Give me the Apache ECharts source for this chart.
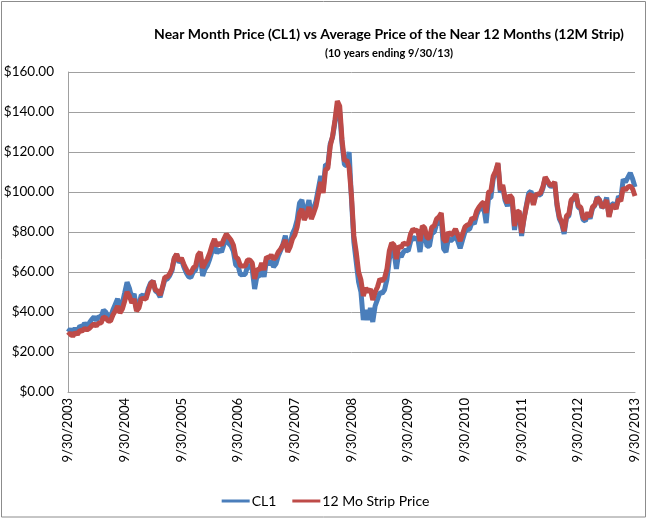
<!DOCTYPE html>
<html>
<head>
<meta charset="utf-8">
<script src="https://cdn.jsdelivr.net/npm/echarts@6/dist/echarts.min.js"></script>
<style>html,body{margin:0;padding:0;background:#fff}#c{width:651px;height:519px}</style>
</head>
<body>
<div id="c"></div>
<script>
// Semi-monthly observations, 9/30/2003 .. 9/30/2013 (index 0 = 9/30/2003, then mid/end of each month)
const yearLabels = ['9/30/2003','9/30/2004','9/30/2005','9/30/2006','9/30/2007','9/30/2008','9/30/2009','9/30/2010','9/30/2011','9/30/2012','9/30/2013'];
const yTicks = [0,20,40,60,80,100,120,140,160];

const cl1 = [30.0,
 31.5,29.5,31.9,30.4,33.0,32.5,34.4,33.1,34.5,36.2,37.5,35.8,37.7,37.4,41.0,39.9,37.6,37.1,41.0,43.8,46.6,42.1,44.4,49.6,
 54.9,51.8,46.9,49.1,41.5,43.5,48.4,48.2,47.4,51.8,54.6,55.4,50.5,49.7,47.5,52.0,56.2,56.5,58.1,60.6,66.9,68.9,64.7,66.2,
 62.6,59.8,57.7,57.3,60.0,61.0,66.3,67.9,58.0,61.4,63.3,66.6,70.5,73.5,69.4,71.3,70.0,73.9,76.5,74.4,73.1,70.3,63.4,62.9,
 58.6,58.7,58.8,62.9,63.4,61.0,51.5,58.1,57.9,61.8,57.6,65.9,63.6,65.7,62.6,64.0,68.0,70.7,74.0,78.2,71.0,74.0,79.1,81.7,
 86.1,94.5,96.0,88.7,91.3,96.0,88.0,91.8,95.5,101.8,108.0,101.6,113.8,113.5,124.1,127.4,134.9,142.0,140.0,124.1,113.8,113.0,120.0,96.0,
 75.0,65.0,55.0,50.0,36.0,41.0,36.0,42.0,35.0,43.0,46.3,49.7,49.4,51.1,56.3,66.3,70.6,69.9,61.5,69.5,67.5,70.0,71.0,70.6,
 75.2,77.5,76.4,77.3,70.0,79.4,78.0,72.9,73.0,79.7,79.8,83.8,84.5,86.2,71.6,70.0,76.9,75.6,76.6,78.9,75.4,71.9,76.0,80.0,
 81.3,81.4,84.9,84.1,88.6,91.4,91.5,92.2,84.5,97.0,97.2,106.7,109.7,113.9,99.7,102.7,95.8,93.0,97.2,95.7,81.0,88.8,89.4,78.0,
 86.8,93.2,99.4,100.4,93.9,98.8,98.7,98.5,101.8,107.1,105.1,103.0,102.8,104.9,93.0,86.5,84.0,79.0,87.1,88.1,95.3,96.5,98.8,92.2,
 91.9,86.2,85.5,88.9,86.7,91.8,93.3,97.5,95.9,92.1,93.5,97.2,88.0,93.5,94.3,92.0,97.9,96.6,106.3,105.0,107.3,109.5,106.5,102.5];

const strip = [28.3,
 29.5,27.8,29.8,28.8,30.8,30.5,31.8,31.0,31.8,33.0,34.0,33.0,34.5,34.5,37.5,37.0,35.5,35.5,38.5,40.5,43.0,39.5,41.5,45.5,
 50.0,48.0,44.5,46.5,40.5,42.0,46.5,46.8,46.5,50.5,54.0,55.5,51.0,50.5,48.5,52.5,57.5,57.5,59.0,61.5,67.0,69.0,65.5,67.0,
 64.0,61.5,59.5,59.5,62.0,63.0,68.5,70.0,62.0,64.5,66.5,69.5,73.5,76.5,73.0,74.5,73.5,76.5,79.0,77.5,76.0,73.5,67.5,66.5,
 63.0,63.0,63.0,66.0,66.0,64.5,56.5,61.5,61.0,64.5,61.0,67.5,67.0,68.5,66.5,67.5,70.0,71.5,73.5,76.0,70.0,72.5,76.5,78.5,
 82.5,89.5,91.5,86.0,88.5,92.5,86.5,89.5,93.0,99.0,105.0,99.5,111.0,112.0,123.0,128.0,136.0,145.5,143.0,126.0,115.5,116.0,112.0,98.0,
 78.0,70.0,60.0,56.0,48.0,52.0,50.0,51.5,46.0,50.0,52.5,56.5,55.5,57.0,61.5,70.5,74.5,73.5,66.5,73.0,72.0,74.5,74.0,74.0,
 79.0,81.5,80.5,81.0,75.5,83.0,82.0,77.0,77.0,82.5,83.0,86.5,87.5,89.5,76.5,75.0,80.0,78.5,79.5,81.5,78.5,75.5,79.0,82.5,
 83.5,84.0,87.0,86.5,90.5,92.5,94.0,95.0,89.5,100.0,100.5,108.0,110.5,114.5,101.0,103.5,97.0,94.5,98.5,97.0,83.0,90.0,90.5,79.5,
 86.5,92.5,98.0,99.0,93.5,98.5,99.0,99.5,102.5,107.5,105.5,103.5,103.5,105.0,94.0,87.5,85.0,80.5,88.0,89.0,96.0,97.0,99.0,93.0,
 92.5,87.5,86.5,89.8,87.5,92.5,93.5,97.0,96.0,92.5,93.0,96.0,87.5,92.5,93.5,91.5,96.5,95.5,102.0,101.0,102.5,103.0,101.5,98.0];

// category labels: one per observation; only yearly anniversaries are shown
const cats = cl1.map((v, i) => (i % 24 === 0 ? yearLabels[i / 24] : 'p' + i));

const FONT = "Lato, 'Noto Sans', sans-serif";
const chart = echarts.init(document.getElementById('c'), null, {renderer: 'canvas'});
chart.setOption({
  animation: false,
  backgroundColor: '#fff',
  title: {
    text: 'Near Month Price (CL1) vs Average Price of the Near 12 Months (12M Strip)',
    subtext: '(10 years ending 9/30/13)',
    left: 384, top: 22, textAlign: 'center', itemGap: 7,
    textStyle: {fontFamily: FONT, fontSize: 14, fontWeight: 'bold', color: '#000'},
    subtextStyle: {fontFamily: FONT, fontSize: 11, fontWeight: 'bold', color: '#000'}
  },
  legend: {
    top: 489, left: 'center', itemWidth: 28, itemHeight: 3, itemGap: 16, icon: 'rect',
    textStyle: {fontFamily: FONT, fontSize: 14, color: '#000', padding: [0, 0, 0, -3]},
    data: ['CL1', '12 Mo Strip Price']
  },
  grid: {left: 68, right: 16, top: 72, bottom: 127, containLabel: false},
  xAxis: {
    type: 'category', data: cats, boundaryGap: false,
    axisLine: {lineStyle: {color: '#a0a0a0', width: 1}},
    axisTick: {show: false},
    axisLabel: {
      interval: (i) => i % 24 === 0, rotate: 90, fontFamily: FONT, fontSize: 13, color: '#000', margin: 6,
      formatter: (v) => (v.charAt(0) === 'p' ? '' : v)
    },
    splitLine: {show: false}
  },
  yAxis: {
    type: 'value', min: yTicks[0], max: yTicks[yTicks.length - 1], interval: 20,
    axisLine: {show: true, lineStyle: {color: '#a0a0a0', width: 1}},
    axisTick: {show: false},
    axisLabel: {fontFamily: FONT, fontSize: 13.5, color: '#000', margin: 14,
      formatter: (v) => '$' + v.toFixed(2)},
    splitLine: {lineStyle: {color: '#a0a0a0', width: 1}}
  },
  series: [
    {name: 'CL1', type: 'line', data: cl1, showSymbol: false, symbol: 'none',
      lineStyle: {color: '#4A7EBB', width: 5}, itemStyle: {color: '#4A7EBB'}, z: 2},
    {name: '12 Mo Strip Price', type: 'line', data: strip, showSymbol: false, symbol: 'none',
      lineStyle: {color: '#BE4B48', width: 5}, itemStyle: {color: '#BE4B48'}, z: 3}
  ],
  graphic: [{
    type: 'rect', shape: {x: 1.5, y: 1.5, width: 644, height: 515.5},
    style: {fill: 'none', stroke: '#8c8c8c', lineWidth: 1}, silent: true, z: 100
  }]
});
</script>
</body>
</html>
